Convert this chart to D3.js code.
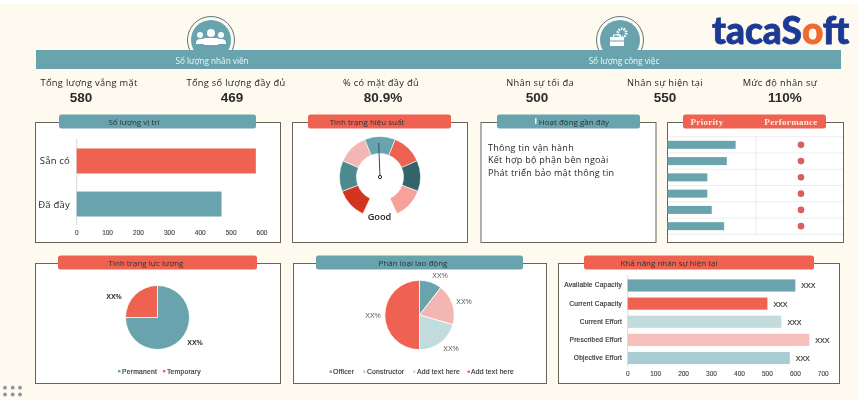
<!DOCTYPE html>
<html><head><meta charset="utf-8">
<script src="https://d3js.org/d3.v7.min.js"></script>
<style>html,body{margin:0;padding:0;background:#fefaf0;overflow:hidden}svg{display:block;filter:blur(.35px)}text{font-family:"Open Sans",sans-serif}</style>
</head><body><svg id="c" width="858" height="400"></svg>
<script>
const kpiLabels=["Tổng lượng vắng mặt","Tổng số lượng đầy đủ","% có mặt đầy đủ","Nhân sự tối đa","Nhân sự hiện tại","Mức độ nhân sự"];
const kpiValues=["580","469","80.9%","500","550","110%"];
const positionCats=["Sẵn có","Đã đầy"];
const positionVals=[580,469];
const positionTicks=[0,100,200,300,400,500,600];
const gaugeVals=[1,1,1,1,1,1,1];
const activityLines=["Thông tin vận hành","Kết hợp bộ phận bên ngoài","Phát triển bảo mật thông tin"];
const priorityVals=[77,67,45,45,50,64];
const performanceVals=[1,1,1,1,1,1];
const forceCats=["Permanent","Temporary"];
const forceVals=[75,25];
const laborCats=["Officer","Constructor","Add text here","Add text here"];
const laborVals=[10.5,19,20.5,50];
const capCats=["Available Capacity","Current Capacity","Current Effort","Prescribed Effort","Objective Effort"];
const capVals=[600,500,550,650,580];
const capTicks=[0,100,200,300,400,500,600,700];

const TEAL="#69a4ae",CORAL="#ef6150",INK="#1f1f1f";
const svg=d3.select("#c");
svg.append("rect").attr("width",858).attr("height",4).attr("fill","#fff");

// --- section banner and icons
[[211],[620]].forEach(([cx])=>{
  svg.append("circle").attr("cx",cx).attr("cy",40).attr("r",23.5).attr("fill","#fefaf0").attr("stroke","#4a6a70").attr("stroke-width",.9);
  svg.append("circle").attr("cx",cx).attr("cy",40).attr("r",20).attr("fill",TEAL);
});
const people=svg.append("g").attr("fill","#fff");
[[200,35,3],[211,33,4],[221,35,3]].forEach(([x,y,r])=>people.append("circle").attr("cx",x).attr("cy",y).attr("r",r));
people.append("path").attr("d","M196 43q0-4 5-4h20q5 0 5 4v1h-30z");
people.append("rect").attr("x",203).attr("y",38).attr("width",16).attr("height",7).attr("rx",2);
const tool=svg.append("g");
tool.append("circle").attr("cx",622).attr("cy",33).attr("r",4.2).attr("fill","none").attr("stroke","#fff").attr("stroke-width",2.6).attr("stroke-dasharray","1.6 1");
tool.append("rect").attr("x",610).attr("y",37).attr("width",14).attr("height",9).attr("fill","#fff");
tool.append("rect").attr("x",613.5).attr("y",35).attr("width",7).attr("height",3).attr("fill","none").attr("stroke","#fff");
tool.append("line").attr("x1",610).attr("x2",624).attr("y1",41).attr("y2",41).attr("stroke",TEAL);
svg.append("rect").attr("x",36).attr("y",50).attr("width",805).attr("height",19).attr("fill",TEAL);
[["Số lượng nhân viên",212],["Số lượng công việc",624]].forEach(([t,x])=>
  svg.append("text").attr("x",x).attr("y",63.5).attr("text-anchor","middle").attr("fill","#eef6f6").attr("font-size",8.2).text(t));

// --- logo
const logo=svg.append("text").attr("x",712).attr("y",44).attr("font-size",37).attr("font-weight",900)
  .attr("fill","#1b3a94").attr("stroke","#1b3a94").attr("stroke-width",.8).style("font-family","Lato");
logo.append("tspan").text("taca");
logo.append("tspan").text("S");
logo.append("tspan").attr("fill","#ee6a30").attr("stroke","#ee6a30").text("o");
logo.append("tspan").text("ft");

// --- KPIs
const kpiLabelX=[89,236,381,540,665,780],kpiValueX=[81,232,383,537,665,785];
kpiLabels.forEach((t,i)=>{
  svg.append("text").attr("x",kpiLabelX[i]).attr("y",85.5).attr("text-anchor","middle").attr("font-size",9.3).attr("letter-spacing",.3).attr("fill",INK).text(t);
  svg.append("text").attr("x",kpiValueX[i]).attr("y",102).attr("text-anchor","middle").attr("font-size",13.5).attr("font-weight",700).attr("fill","#2b2b2b").style("font-family","Liberation Sans").text(kpiValues[i]);
});

// --- panels
function panel(x,y,w,h,hx,hw,fill,title,tx){
  svg.append("rect").attr("x",x).attr("y",y).attr("width",w).attr("height",h).attr("fill","#fff").attr("stroke","#66655c").attr("stroke-width",1);
  svg.append("rect").attr("x",hx).attr("y",y-8).attr("width",hw).attr("height",14).attr("rx",2.5).attr("fill",fill);
  if(title) svg.append("text").attr("x",tx).attr("y",y+2).attr("text-anchor","middle").attr("font-size",8).attr("fill","#2a3436").text(title);
}
panel(35.5,122.5,245,120,59,197,TEAL,"Số lượng vị trí",134);
panel(292.5,122.5,175,120,308,143,CORAL,"Tình trạng hiệu suất",367);
panel(481,122.5,175,120,497,143,TEAL,"Hoạt động gần đây",574);
panel(667.5,122.5,176,120,683,143,CORAL,null,0);
panel(35.5,263.5,245,120,58,199,CORAL,"Tình trạng lực lượng",146);
panel(293.5,263.5,253,120,316,207,TEAL,"Phân loại lao động",413);
panel(558.5,263.5,281,120,584,230,CORAL,"Khả năng nhân sự hiện tại",669);

// --- horizontal bar helper
function tickRow(x,ticks,y,size){
  svg.append("g").selectAll("text").data(ticks).join("text").attr("x",d=>x(d)).attr("y",y)
    .attr("text-anchor","middle").attr("font-size",size).attr("fill","#444").attr("stroke","#444").attr("stroke-width",.12).style("font-family","Liberation Sans").text(d=>d);
}
// position chart
const px=d3.scaleLinear().domain([0,600]).range([76.7,262]);
const py=d3.scaleBand().domain(positionCats).range([139,226]).paddingInner(.42).paddingOuter(.22);
svg.append("line").attr("x1",px(0)).attr("x2",px(0)).attr("y1",139).attr("y2",225).attr("stroke","#d9d9d9");
svg.append("g").selectAll("rect").data(positionCats).join("rect").attr("x",px(0)).attr("y",d=>py(d))
  .attr("height",py.bandwidth()).attr("width",(d,i)=>px(positionVals[i])-px(0)).attr("fill",(d,i)=>i?TEAL:CORAL);
svg.append("g").selectAll("text").data(positionCats).join("text").attr("x",70).attr("y",d=>py(d)+py.bandwidth()/2+3.5)
  .attr("text-anchor","end").attr("font-size",9.5).attr("letter-spacing",.2).attr("fill",INK).text(d=>d);
tickRow(px,positionTicks,234.5,6.5);

// gauge
const gaugeColors=["#d2341f","#4d8a90","#f4b6b3",TEAL,CORAL,"#33636b","#f4a29a"];
const gPie=d3.pie().sort(null).startAngle(-155*Math.PI/180).endAngle(155*Math.PI/180);
const gArc=d3.arc().innerRadius(23.5).outerRadius(40.5);
const gG=svg.append("g").attr("transform","translate(380,177)");
gG.selectAll("path").data(gPie(gaugeVals)).join("path").attr("d",gArc).attr("fill",(d,i)=>gaugeColors[i]).attr("stroke","#fff").attr("stroke-width",.6);
gG.append("line").attr("x1",0).attr("y1",0).attr("x2",-1.3).attr("y2",-34).attr("stroke","#2e5058").attr("stroke-width",1);
gG.append("circle").attr("r",1.6).attr("fill","#fff").attr("stroke","#222").attr("stroke-width",1);
svg.append("text").attr("x",379.5).attr("y",220).attr("text-anchor","middle").attr("font-size",9.2).attr("font-weight",600).attr("fill","#222").text("Good");

// activity
svg.append("rect").attr("x",535).attr("y",118).attr("width",1.5).attr("height",6).attr("fill","#e6f0f0");
svg.append("g").selectAll("text").data(activityLines).join("text").attr("x",488).attr("y",(d,i)=>150.5+i*12.6)
  .attr("font-size",9).attr("letter-spacing",.28).attr("fill",INK).text(d=>d);

// priority / performance
[["Priority",707],["Performance",791]].forEach(([t,x])=>svg.append("text").attr("x",x).attr("y",125)
  .attr("text-anchor","middle").attr("font-size",9).attr("font-weight",700).attr("fill","#fde9df").style("font-family","Liberation Serif").attr("letter-spacing",.3).text(t));
const rowIdx=d3.range(priorityVals.length);
const ry=d3.scaleBand().domain(rowIdx).range([136.7,234.3]);
const rx=d3.scaleLinear().domain([0,100]).range([667.5,756]);
svg.append("g").selectAll("line").data(d3.range(7)).join("line").attr("x1",668).attr("x2",843)
  .attr("y1",i=>136.7+i*ry.bandwidth()).attr("y2",i=>136.7+i*ry.bandwidth()).attr("stroke","#e2e5ea").attr("stroke-width",.7);
svg.append("line").attr("x1",rx(100)).attr("x2",rx(100)).attr("y1",136.7).attr("y2",234.3).attr("stroke","#dfe2e8").attr("stroke-width",.7);
svg.append("g").selectAll("rect").data(priorityVals).join("rect").attr("x",rx(0)).attr("y",(d,i)=>ry(i)+ry.bandwidth()/2-4)
  .attr("height",8).attr("width",d=>rx(d)-rx(0)).attr("fill",TEAL);
const dotX=d3.scaleLinear().domain([0,2]).range([756,846]);
svg.append("g").selectAll("circle").data(performanceVals).join("circle").attr("cx",d=>dotX(d)).attr("cy",(d,i)=>ry(i)+ry.bandwidth()/2).attr("r",3.3).attr("fill","#d9605c");

// pies
function pieChart(cx,cy,r,vals,colors,labels,labelColor,labelWeight){
  const pie=d3.pie().sort(null), arc=d3.arc().innerRadius(0).outerRadius(r);
  svg.append("g").attr("transform",`translate(${cx},${cy})`).selectAll("path").data(pie(vals)).join("path")
    .attr("d",arc).attr("fill",(d,i)=>colors[i]).attr("stroke","#fff").attr("stroke-width",.8);
  svg.append("g").selectAll("text").data(labels).join("text").attr("x",d=>d[0]).attr("y",d=>d[1]).attr("text-anchor","middle")
    .attr("font-size",7).attr("font-weight",labelWeight).attr("fill",labelColor).style("font-family","Liberation Sans").text("XX%");
}
function legend(cats,colors,mx,tx,y){
  const g=svg.append("g");
  cats.forEach((t,i)=>{
    g.append("rect").attr("x",mx[i]).attr("y",y-3.5).attr("width",2.4).attr("height",2.4).attr("fill",colors[i]);
    g.append("text").attr("x",tx[i]).attr("y",y).attr("font-size",6.8).attr("letter-spacing",.2).attr("fill","#3a3a3a").attr("stroke","#3a3a3a").attr("stroke-width",.18).style("font-family","Liberation Sans").text(t);
  });
}
const forceColors=[TEAL,CORAL];
pieChart(157.5,317.5,32,forceVals,forceColors,[[114,298.5],[195,344.5]],"#2a2a2a",700);
legend(forceCats,forceColors,[118,163],[122,167],373.5);
const laborColors=[TEAL,"#f4b6b3","#c2dbdd",CORAL];
pieChart(419.5,315,34.7,laborVals,laborColors,[[440,278],[464,304],[451,351],[373,317.5]],"#555",400);
legend(laborCats,laborColors,[329.5,363,413,467.5],[333,367,417,471],374);

// capacity
const cx=d3.scaleLinear().domain([0,700]).range([627.7,823.3]);
const cy=d3.scaleBand().domain(capCats).range([276.5,367]).paddingInner(.33).paddingOuter(.16);
const capColors=[TEAL,CORAL,"#c2dbdd","#f5bfbb","#a9cdd3"];
svg.append("line").attr("x1",cx(0)).attr("x2",cx(0)).attr("y1",275).attr("y2",367).attr("stroke","#dcdcdc");
svg.append("g").selectAll("rect").data(capCats).join("rect").attr("x",cx(0)).attr("y",d=>cy(d)).attr("height",cy.bandwidth())
  .attr("width",(d,i)=>cx(capVals[i])-cx(0)).attr("fill",(d,i)=>capColors[i]);
svg.append("g").selectAll("text").data(capCats).join("text").attr("x",622).attr("y",d=>cy(d)+cy.bandwidth()/2+2)
  .attr("text-anchor","end").attr("font-size",6.6).attr("letter-spacing",.2).attr("fill","#333").attr("stroke","#333").attr("stroke-width",.18).style("font-family","Liberation Sans").text(d=>d);
svg.append("g").selectAll("text").data(capCats).join("text").attr("x",(d,i)=>cx(capVals[i])+6).attr("y",d=>cy(d)+cy.bandwidth()/2+3)
  .attr("font-size",7).attr("fill","#333").attr("stroke","#333").attr("stroke-width",.2).style("font-family","Liberation Sans").text("XXX");
tickRow(cx,capTicks,375.5,6.5);

// corner dots
const dotCols=[5,12.7,20],dotRows=[387.7,394.5];
dotRows.forEach(y=>dotCols.forEach(x=>svg.append("circle").attr("cx",x).attr("cy",y).attr("r",1.9).attr("fill","#8b98a0")));
</script></body></html>
